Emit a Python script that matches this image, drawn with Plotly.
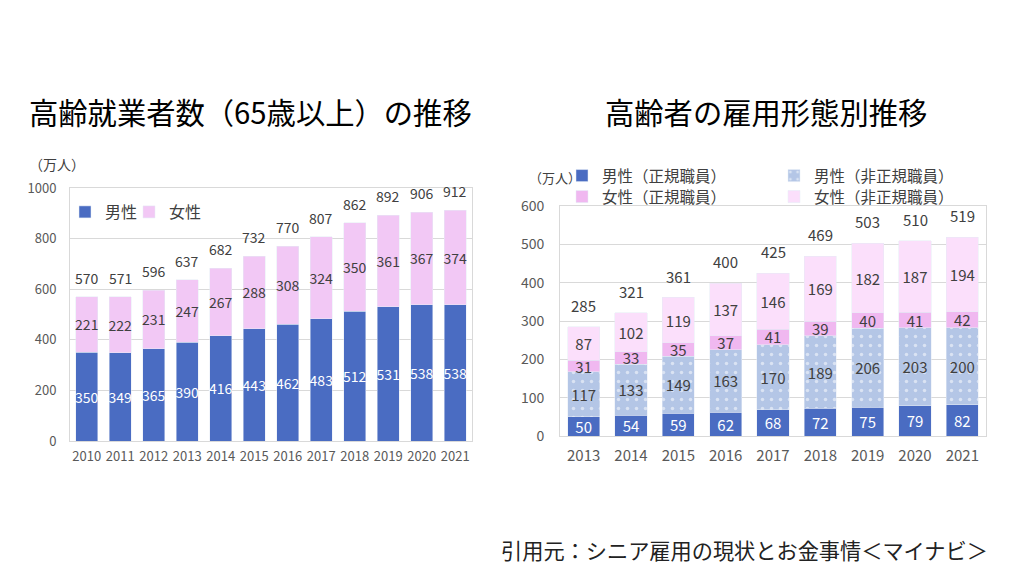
import plotly.graph_objects as go

# ---- data: chart 1 (高齢就業者数) ----
years1 = ["2010", "2011", "2012", "2013", "2014", "2015", "2016", "2017", "2018", "2019", "2020", "2021"]
male1 = [350, 349, 365, 390, 416, 443, 462, 483, 512, 531, 538, 538]
female1 = [221, 222, 231, 247, 267, 288, 308, 324, 350, 361, 367, 374]
total1 = [570, 571, 596, 637, 682, 732, 770, 807, 862, 892, 906, 912]

# ---- data: chart 2 (雇用形態別) ----
years2 = ["2013", "2014", "2015", "2016", "2017", "2018", "2019", "2020", "2021"]
male_reg = [50, 54, 59, 62, 68, 72, 75, 79, 82]
male_irr = [117, 133, 149, 163, 170, 189, 206, 203, 200]
female_reg = [31, 33, 35, 37, 41, 39, 40, 41, 42]
female_irr = [87, 102, 119, 137, 146, 169, 182, 187, 194]
total2 = [285, 321, 361, 400, 425, 469, 503, 510, 519]

FONT = "Noto Sans CJK JP"
BLUE = "#4a6cc2"
PINK1 = "#f2c8f5"
LBLUE = "#b4c6e6"
PINK2 = "#f0b8f0"
PINK3 = "#fbdffb"
DARK = "#404040"

W, H = 1024, 576
OFF = 8  # page body margin


def X(px):
    return (px - OFF) / W


def Y(py):
    return 1 - (py - OFF) / H


fig = go.Figure()

bar_common = dict(textposition="inside", insidetextanchor="middle", textangle=0, constraintext="none")

# chart 1 bars
fig.add_trace(go.Bar(x=years1, y=male1, name="男性", marker_color=BLUE, width=0.66, text=male1,
                     textfont=dict(color="white", size=14, family=FONT),
                     xaxis="x", yaxis="y", legend="legend", **bar_common))
fig.add_trace(go.Bar(x=years1, y=female1, name="女性", marker_color=PINK1, width=0.66, text=female1,
                     textfont=dict(color=DARK, size=14, family=FONT),
                     xaxis="x", yaxis="y", legend="legend4", **bar_common))

# chart 2 bars
fig.add_trace(go.Bar(x=years2, y=male_reg, name="男性（正規職員）", marker_color=BLUE, width=0.68,
                     text=male_reg, textfont=dict(color="white", size=15, family=FONT),
                     xaxis="x2", yaxis="y2", legend="legend2", **bar_common))
fig.add_trace(go.Bar(x=years2, y=male_irr, name="男性（非正規職員）", width=0.68,
                     marker=dict(color=LBLUE, pattern=dict(shape=".", fgcolor="white", bgcolor=LBLUE,
                                                           size=9, solidity=0.12)),
                     text=male_irr, textfont=dict(color=DARK, size=15, family=FONT),
                     xaxis="x2", yaxis="y2", legend="legend2", **bar_common))
fig.add_trace(go.Bar(x=years2, y=female_reg, name="女性（正規職員）", marker_color=PINK2, width=0.68,
                     text=female_reg, textfont=dict(color=DARK, size=15, family=FONT),
                     xaxis="x2", yaxis="y2", legend="legend3", **bar_common))
fig.add_trace(go.Bar(x=years2, y=female_irr, name="女性（非正規職員）", marker_color=PINK3, width=0.68,
                     text=female_irr, textfont=dict(color=DARK, size=15, family=FONT),
                     xaxis="x2", yaxis="y2", legend="legend3", **bar_common))

annotations = []
# totals above bars (category index positions on the category axes)
for i, t in enumerate(total1):
    annotations.append(dict(x=i, y=t, xref="x", yref="y", text=str(t), showarrow=False,
                            yanchor="bottom", yshift=7, font=dict(size=14, color=DARK, family=FONT)))
for i, t in enumerate(total2):
    annotations.append(dict(x=i, y=t, xref="x2", yref="y2", text=str(t), showarrow=False,
                            yanchor="bottom", yshift=9, font=dict(size=15, color=DARK, family=FONT)))

# titles / units / source
annotations += [
    dict(text="高齢就業者数（65歳以上）の推移", x=X(27), y=Y(111), xref="paper", yref="paper",
         xanchor="left", yanchor="middle", showarrow=False, font=dict(size=29.3, color="black", family=FONT)),
    dict(text="高齢者の雇用形態別推移", x=X(603), y=Y(111), xref="paper", yref="paper",
         xanchor="left", yanchor="middle", showarrow=False, font=dict(size=29.3, color="black", family=FONT)),
    dict(text="（万人）", x=X(27), y=Y(164), xref="paper", yref="paper",
         xanchor="left", yanchor="middle", showarrow=False, font=dict(size=14, color=DARK, family=FONT)),
    dict(text="（万人）", x=X(527), y=Y(177), xref="paper", yref="paper",
         xanchor="left", yanchor="middle", showarrow=False, font=dict(size=13, color=DARK, family=FONT)),
    dict(text="引用元：シニア雇用の現状とお金事情＜マイナビ＞", x=X(990), y=Y(549),
         xref="paper", yref="paper", xanchor="right", yanchor="middle", showarrow=False,
         font=dict(size=21.2, color="#222222", family=FONT)),
]

axis_common = dict(showline=True, mirror=True, linecolor="#d9d9d9", linewidth=1, automargin=False,
                   tickfont=dict(color="#595959", family=FONT), fixedrange=True)

legend_common = dict(orientation="h", xanchor="left", yanchor="middle", bgcolor="rgba(0,0,0,0)",
                     traceorder="normal", itemwidth=30)

fig.update_layout(
    width=W, height=H,
    margin=dict(l=0, r=0, t=0, b=0, autoexpand=False),
    paper_bgcolor="white", plot_bgcolor="white",
    barmode="stack",
    font=dict(family=FONT, color=DARK),
    annotations=annotations,
    xaxis=dict(domain=[X(70), X(472)], anchor="y", type="category", ticks="",
               range=[-0.5, len(years1) - 0.5], tickfont_size=13, ticklabelstandoff=3, **axis_common),
    yaxis=dict(domain=[Y(441), Y(188)], anchor="x", range=[0, 1000], dtick=200,
               showgrid=True, gridcolor="#d9d9d9", ticklabelstandoff=10, tickfont_size=13,
               zeroline=False, **axis_common),
    xaxis2=dict(domain=[X(560), X(986)], anchor="y2", type="category", ticks="",
                range=[-0.5, len(years2) - 0.5], tickfont_size=15, ticklabelstandoff=6, **axis_common),
    yaxis2=dict(domain=[Y(436), Y(206)], anchor="x2", range=[0, 600], dtick=100,
                showgrid=True, gridcolor="#d9d9d9", ticklabelstandoff=12, tickfont_size=14,
                zeroline=False, **axis_common),
    legend=dict(x=X(65), y=Y(212), font=dict(size=16, color=DARK, family=FONT), **legend_common),
    legend4=dict(x=X(129), y=Y(212), font=dict(size=16, color=DARK, family=FONT), **legend_common),
    legend2=dict(x=X(562), y=Y(176), font=dict(size=15.5, color=DARK, family=FONT),
                 entrywidth=167, entrywidthmode="pixels", **legend_common),
    legend3=dict(x=X(562), y=Y(197), font=dict(size=15.5, color=DARK, family=FONT),
                 entrywidth=167, entrywidthmode="pixels", **legend_common),
    showlegend=True,
)

fig.write_html("out.html")
